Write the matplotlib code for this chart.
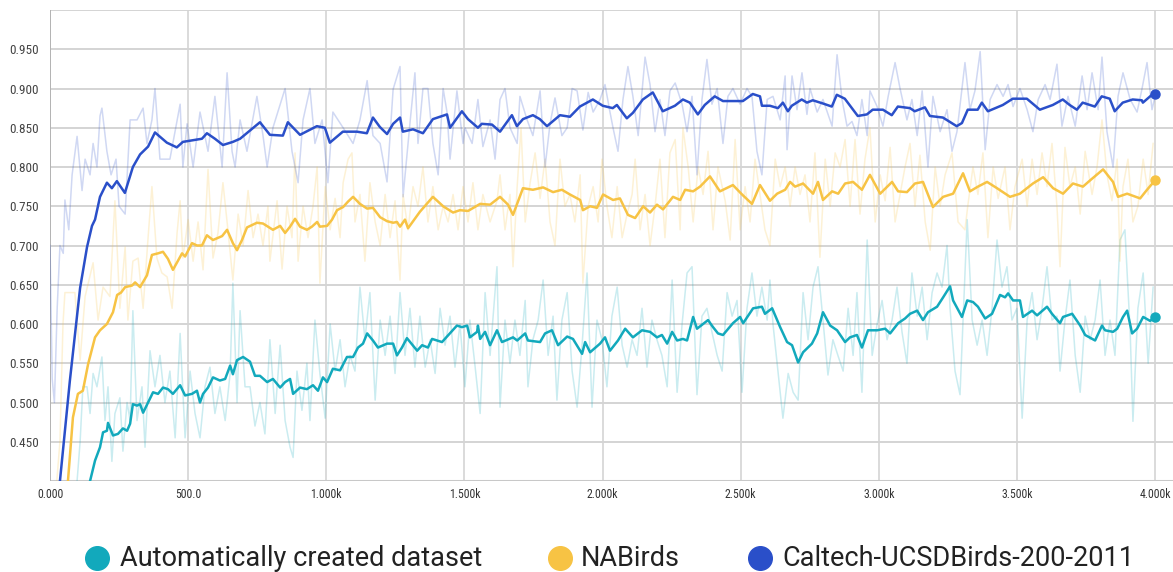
import matplotlib
matplotlib.use("Agg")
import matplotlib.pyplot as plt
from matplotlib import font_manager as fm
from matplotlib.lines import Line2D
import numpy as np

# ---------------- data ----------------
series_names = ["Automatically created dataset", "NABirds", "Caltech-UCSDBirds-200-2011"]
y_ticks = [0.450, 0.500, 0.550, 0.600, 0.650, 0.700, 0.750, 0.800, 0.850, 0.900, 0.950]
y_tick_labels = ["0.450", "0.500", "0.550", "0.600", "0.650", "0.700", "0.750", "0.800", "0.850", "0.900", "0.950"]
x_ticks = [0, 500, 1000, 1500, 2000, 2500, 3000, 3500, 4000]
x_tick_labels = ["0.000", "500.0", "1.000k", "1.500k", "2.000k", "2.500k", "3.000k", "3.500k", "4.000k"]

# Caltech smoothed
blue_s_steps = [0,36,72,109,134,152,163,181,206,224,242,271,300,326,355,380,423,459,481,550,568,597,626,662,688,760,796,843,861,905,966,995,1013,1060,1111,1147,1169,1194,1220,1242,1267,1277,1314,1350,1386,1437,1448,1491,1513,1549,1563,1600,1629,1672,1690,1712,1748,1773,1799,1846,1882,1918,1965,2001,2037,2052,2088,2110,2146,2182,2218,2262,2291,2316,2345,2370,2406,2436,2486,2508,2544,2570,2577,2606,2635,2653,2671,2685,2721,2740,2761,2797,2830,2848,2877,2924,2957,2978,3015,3047,3069,3113,3130,3167,3185,3232,3282,3301,3322,3358,3373,3395,3449,3485,3536,3583,3630,3666,3691,3717,3738,3782,3807,3836,3854,3883,3919,3952,3956,3992,4000]
blue_s_vals = [0.30,0.40,0.528,0.646,0.698,0.725,0.733,0.762,0.780,0.773,0.782,0.767,0.800,0.816,0.826,0.844,0.831,0.825,0.832,0.836,0.843,0.836,0.828,0.832,0.836,0.857,0.841,0.840,0.857,0.841,0.852,0.850,0.831,0.845,0.845,0.843,0.863,0.851,0.842,0.855,0.863,0.845,0.848,0.843,0.861,0.867,0.850,0.871,0.861,0.850,0.855,0.854,0.845,0.866,0.852,0.861,0.866,0.861,0.852,0.866,0.864,0.877,0.886,0.878,0.875,0.879,0.862,0.869,0.886,0.895,0.871,0.878,0.886,0.882,0.867,0.879,0.890,0.884,0.884,0.884,0.893,0.890,0.878,0.878,0.875,0.882,0.871,0.878,0.886,0.882,0.885,0.881,0.877,0.892,0.887,0.865,0.867,0.873,0.873,0.866,0.877,0.875,0.871,0.876,0.865,0.863,0.852,0.856,0.873,0.873,0.882,0.871,0.879,0.887,0.887,0.873,0.879,0.886,0.879,0.873,0.882,0.877,0.890,0.887,0.871,0.882,0.886,0.885,0.882,0.893,0.893]

# NABirds smoothed
yel_s_steps = [0,65,83,101,119,138,163,181,206,228,243,257,272,297,308,326,351,369,391,409,427,445,478,489,514,532,550,568,590,623,641,662,677,695,713,749,771,789,807,833,851,869,887,905,930,948,967,977,1003,1021,1039,1061,1079,1097,1122,1148,1169,1195,1220,1242,1256,1267,1285,1296,1339,1386,1423,1459,1484,1513,1557,1593,1629,1658,1676,1712,1748,1785,1821,1853,1882,1919,1929,1955,1980,2002,2038,2063,2092,2118,2147,2172,2197,2219,2255,2281,2299,2328,2353,2389,2425,2472,2505,2541,2570,2606,2632,2661,2679,2697,2726,2762,2780,2798,2831,2853,2878,2907,2939,2968,3005,3048,3070,3102,3131,3160,3196,3233,3269,3305,3330,3359,3392,3428,3475,3511,3558,3595,3631,3667,3703,3739,3765,3812,3848,3866,3899,3946,3971,4000]
yel_s_vals = [0.30,0.40,0.481,0.511,0.515,0.549,0.583,0.592,0.600,0.615,0.637,0.640,0.647,0.649,0.653,0.647,0.662,0.688,0.690,0.692,0.683,0.669,0.690,0.686,0.703,0.700,0.700,0.713,0.707,0.712,0.720,0.703,0.694,0.707,0.723,0.729,0.728,0.724,0.720,0.725,0.716,0.724,0.734,0.724,0.720,0.724,0.730,0.724,0.725,0.733,0.745,0.749,0.756,0.762,0.753,0.747,0.748,0.736,0.731,0.729,0.730,0.724,0.733,0.722,0.743,0.762,0.750,0.742,0.745,0.744,0.753,0.752,0.762,0.752,0.739,0.773,0.771,0.774,0.768,0.771,0.765,0.758,0.745,0.750,0.748,0.765,0.758,0.760,0.739,0.735,0.750,0.742,0.752,0.746,0.762,0.758,0.771,0.769,0.775,0.788,0.769,0.777,0.765,0.753,0.777,0.757,0.766,0.771,0.781,0.775,0.779,0.766,0.781,0.758,0.769,0.766,0.779,0.781,0.771,0.790,0.766,0.781,0.769,0.768,0.779,0.781,0.749,0.762,0.766,0.792,0.769,0.775,0.781,0.773,0.762,0.766,0.779,0.787,0.773,0.766,0.779,0.775,0.783,0.797,0.781,0.762,0.766,0.760,0.771,0.783]

# Automatically created dataset smoothed
cyan_s_steps = [0,145,163,181,192,206,210,228,246,264,279,290,300,315,326,337,373,391,409,427,445,471,489,514,532,543,554,572,590,615,634,652,662,677,699,724,742,760,786,807,833,851,869,880,905,930,952,970,988,1003,1024,1050,1075,1097,1115,1133,1148,1169,1187,1220,1242,1256,1274,1292,1329,1347,1368,1383,1419,1437,1473,1491,1510,1520,1546,1549,1557,1575,1593,1618,1636,1676,1691,1720,1730,1774,1792,1817,1839,1872,1893,1926,1937,1955,1991,2009,2027,2056,2082,2110,2143,2172,2197,2215,2234,2252,2270,2291,2306,2328,2342,2382,2400,2418,2436,2472,2498,2509,2545,2577,2588,2614,2643,2668,2686,2708,2726,2758,2777,2798,2824,2849,2878,2896,2921,2939,2961,2994,3023,3041,3070,3095,3113,3139,3160,3178,3211,3233,3258,3269,3301,3320,3341,3359,3385,3410,3439,3457,3468,3486,3511,3522,3555,3573,3609,3627,3656,3667,3700,3729,3747,3783,3808,3819,3848,3863,3884,3899,3917,3935,3957,3982,4000]
cyan_s_vals = [0.30,0.40,0.426,0.443,0.462,0.464,0.474,0.458,0.460,0.467,0.464,0.473,0.498,0.496,0.498,0.487,0.513,0.511,0.519,0.517,0.511,0.522,0.509,0.511,0.515,0.500,0.511,0.519,0.532,0.528,0.530,0.547,0.536,0.554,0.558,0.552,0.534,0.534,0.526,0.530,0.519,0.526,0.530,0.511,0.519,0.517,0.522,0.515,0.532,0.526,0.543,0.541,0.558,0.558,0.570,0.575,0.588,0.579,0.570,0.575,0.575,0.560,0.570,0.582,0.566,0.573,0.570,0.581,0.577,0.584,0.598,0.596,0.598,0.583,0.590,0.598,0.581,0.590,0.573,0.592,0.577,0.583,0.579,0.588,0.579,0.577,0.588,0.592,0.573,0.584,0.581,0.562,0.577,0.564,0.575,0.583,0.566,0.579,0.594,0.583,0.592,0.590,0.583,0.586,0.575,0.590,0.579,0.581,0.579,0.609,0.594,0.605,0.596,0.588,0.586,0.601,0.609,0.601,0.620,0.622,0.613,0.620,0.596,0.577,0.573,0.551,0.564,0.575,0.588,0.615,0.598,0.592,0.577,0.583,0.586,0.570,0.592,0.592,0.594,0.588,0.601,0.607,0.613,0.617,0.605,0.615,0.622,0.634,0.648,0.630,0.609,0.630,0.628,0.622,0.607,0.613,0.637,0.634,0.639,0.630,0.630,0.609,0.617,0.611,0.622,0.613,0.601,0.609,0.613,0.598,0.586,0.579,0.598,0.592,0.590,0.594,0.609,0.617,0.588,0.594,0.609,0.604,0.609]

# raw (unsmoothed) values
blue_r_steps = [0,8,16,26,36,48,54,68,80,98,116,127,145,156,170,181,188,206,221,239,250,272,290,315,337,351,369,380,398,434,471,481,496,518,543,572,597,623,641,659,670,688,713,749,771,786,807,851,876,898,916,941,959,985,1006,1024,1061,1097,1122,1148,1169,1195,1220,1242,1267,1278,1303,1321,1332,1350,1368,1386,1405,1423,1437,1448,1473,1495,1502,1528,1549,1567,1593,1611,1629,1647,1665,1691,1701,1727,1748,1774,1792,1810,1828,1853,1872,1890,1908,1929,1948,1966,1991,2009,2027,2038,2056,2074,2092,2110,2129,2154,2172,2190,2208,2226,2244,2263,2288,2306,2324,2342,2360,2378,2396,2415,2436,2454,2472,2498,2523,2541,2559,2577,2596,2617,2643,2661,2668,2686,2704,2722,2740,2751,2777,2798,2831,2849,2867,2885,2903,2921,2939,2958,2968,2994,3015,3034,3059,3077,3102,3120,3139,3157,3178,3196,3222,3247,3265,3283,3312,3330,3348,3367,3385,3403,3428,3450,3468,3486,3511,3537,3558,3577,3602,3620,3645,3663,3685,3711,3736,3754,3772,3794,3808,3826,3848,3866,3884,3910,3935,3953,3971,3989,4000]
blue_r_vals = [0.70,0.53,0.50,0.62,0.70,0.69,0.758,0.72,0.79,0.839,0.77,0.81,0.79,0.83,0.80,0.865,0.875,0.82,0.79,0.81,0.75,0.74,0.86,0.86,0.875,0.83,0.86,0.90,0.81,0.81,0.88,0.80,0.855,0.80,0.87,0.82,0.89,0.80,0.92,0.82,0.80,0.86,0.82,0.89,0.84,0.80,0.85,0.90,0.82,0.78,0.86,0.90,0.83,0.86,0.78,0.87,0.85,0.83,0.86,0.91,0.84,0.83,0.781,0.899,0.928,0.762,0.856,0.92,0.83,0.90,0.90,0.83,0.79,0.90,0.87,0.81,0.897,0.83,0.85,0.83,0.886,0.826,0.86,0.81,0.886,0.90,0.85,0.83,0.89,0.86,0.84,0.897,0.80,0.855,0.888,0.84,0.85,0.90,0.897,0.847,0.895,0.87,0.886,0.905,0.87,0.85,0.82,0.886,0.928,0.89,0.84,0.94,0.905,0.845,0.886,0.84,0.897,0.907,0.88,0.845,0.89,0.79,0.886,0.937,0.88,0.90,0.83,0.89,0.90,0.88,0.90,0.89,0.82,0.79,0.886,0.89,0.86,0.916,0.822,0.916,0.873,0.92,0.867,0.90,0.87,0.886,0.852,0.943,0.886,0.852,0.858,0.84,0.886,0.84,0.897,0.877,0.852,0.89,0.933,0.90,0.86,0.886,0.84,0.897,0.80,0.89,0.845,0.873,0.82,0.845,0.933,0.873,0.897,0.947,0.822,0.886,0.905,0.89,0.905,0.877,0.90,0.873,0.845,0.886,0.905,0.886,0.931,0.852,0.89,0.852,0.916,0.873,0.92,0.873,0.94,0.845,0.80,0.89,0.92,0.886,0.87,0.90,0.933,0.873,0.89]

yel_r_steps = [0,20,36,47,54,90,109,127,156,174,192,217,235,253,272,282,300,319,337,355,369,387,405,424,442,460,471,481,500,518,536,554,572,590,608,626,644,662,681,699,717,735,753,771,789,796,822,840,858,876,887,898,916,934,952,967,977,996,1014,1032,1050,1061,1079,1093,1104,1122,1140,1158,1177,1195,1213,1231,1249,1267,1278,1296,1314,1332,1350,1368,1386,1405,1423,1441,1459,1477,1495,1513,1531,1549,1567,1593,1618,1629,1647,1665,1676,1691,1705,1720,1738,1756,1774,1792,1810,1828,1846,1864,1882,1900,1919,1929,1948,1966,1984,1998,2016,2034,2053,2071,2089,2107,2118,2136,2154,2172,2190,2208,2226,2244,2263,2281,2291,2310,2328,2346,2364,2382,2400,2418,2444,2462,2480,2498,2516,2534,2552,2570,2588,2606,2625,2643,2661,2679,2697,2715,2733,2751,2769,2787,2806,2824,2842,2860,2878,2896,2914,2932,2950,2968,2987,3005,3023,3041,3059,3077,3095,3113,3131,3149,3168,3186,3204,3222,3240,3265,3287,3312,3322,3341,3359,3377,3395,3414,3432,3457,3475,3493,3519,3537,3555,3573,3591,3609,3627,3645,3656,3674,3692,3711,3729,3747,3772,3790,3808,3826,3844,3863,3873,3884,3902,3920,3938,3957,3975,3993]
yel_r_vals = [0.30,0.38,0.45,0.60,0.64,0.64,0.554,0.635,0.678,0.605,0.647,0.635,0.757,0.62,0.698,0.605,0.68,0.684,0.62,0.71,0.775,0.684,0.665,0.66,0.62,0.716,0.757,0.684,0.733,0.68,0.73,0.669,0.797,0.684,0.716,0.78,0.72,0.656,0.74,0.70,0.77,0.71,0.74,0.70,0.75,0.68,0.757,0.67,0.75,0.71,0.818,0.68,0.75,0.71,0.75,0.80,0.652,0.775,0.72,0.76,0.71,0.78,0.81,0.818,0.73,0.765,0.68,0.78,0.73,0.70,0.765,0.71,0.757,0.656,0.765,0.72,0.775,0.75,0.80,0.73,0.775,0.72,0.75,0.73,0.765,0.72,0.775,0.73,0.78,0.72,0.765,0.73,0.757,0.79,0.72,0.765,0.673,0.775,0.85,0.73,0.78,0.818,0.76,0.81,0.73,0.70,0.81,0.75,0.765,0.73,0.79,0.652,0.75,0.775,0.73,0.81,0.75,0.71,0.775,0.71,0.74,0.765,0.81,0.72,0.765,0.70,0.75,0.81,0.71,0.818,0.835,0.72,0.85,0.80,0.73,0.80,0.765,0.82,0.72,0.80,0.757,0.707,0.835,0.72,0.775,0.73,0.81,0.765,0.72,0.70,0.81,0.775,0.80,0.75,0.80,0.765,0.79,0.73,0.818,0.685,0.81,0.75,0.818,0.80,0.835,0.75,0.835,0.74,0.81,0.85,0.73,0.79,0.757,0.825,0.73,0.765,0.80,0.83,0.75,0.815,0.73,0.694,0.80,0.75,0.79,0.818,0.73,0.72,0.75,0.80,0.765,0.818,0.71,0.80,0.76,0.80,0.72,0.775,0.81,0.75,0.81,0.765,0.818,0.775,0.83,0.75,0.673,0.825,0.775,0.80,0.74,0.82,0.765,0.80,0.86,0.79,0.757,0.81,0.68,0.775,0.81,0.73,0.75,0.81,0.765,0.83]

cyan_r_steps = [0,40,98,109,119,134,145,156,170,188,199,210,224,235,253,264,279,290,300,315,333,344,362,380,398,416,434,453,471,489,507,525,543,561,579,597,615,634,652,662,677,688,706,724,742,760,778,796,815,833,851,869,880,894,912,930,941,959,977,996,1014,1032,1050,1068,1086,1104,1122,1140,1158,1177,1195,1213,1231,1249,1267,1285,1303,1321,1339,1358,1376,1394,1412,1430,1448,1466,1484,1502,1520,1539,1557,1575,1593,1618,1629,1647,1665,1683,1701,1720,1730,1748,1767,1785,1803,1821,1835,1853,1872,1890,1908,1926,1944,1962,1980,1998,2016,2034,2053,2071,2089,2107,2125,2143,2161,2179,2197,2215,2234,2252,2270,2288,2306,2324,2342,2360,2378,2396,2415,2433,2451,2469,2487,2505,2523,2541,2559,2577,2596,2606,2617,2635,2653,2672,2690,2708,2726,2744,2762,2780,2798,2816,2834,2852,2871,2889,2907,2921,2939,2958,2976,2994,3012,3030,3048,3066,3084,3102,3120,3139,3157,3175,3193,3211,3229,3247,3258,3276,3294,3305,3320,3338,3356,3374,3392,3410,3428,3446,3464,3482,3500,3519,3537,3555,3573,3591,3609,3627,3645,3656,3674,3692,3711,3729,3747,3765,3783,3801,3819,3837,3855,3873,3891,3910,3920,3938,3957,3975,3993]
cyan_r_vals = [0.30,0.35,0.40,0.45,0.52,0.52,0.486,0.537,0.52,0.558,0.477,0.52,0.425,0.486,0.506,0.438,0.50,0.477,0.617,0.477,0.52,0.443,0.566,0.52,0.56,0.50,0.54,0.455,0.588,0.455,0.54,0.486,0.455,0.52,0.545,0.486,0.52,0.477,0.537,0.652,0.50,0.617,0.52,0.52,0.47,0.50,0.46,0.58,0.486,0.573,0.477,0.443,0.43,0.54,0.49,0.55,0.477,0.605,0.537,0.48,0.60,0.54,0.58,0.52,0.56,0.54,0.647,0.58,0.64,0.503,0.605,0.56,0.61,0.537,0.64,0.56,0.62,0.545,0.61,0.545,0.58,0.537,0.62,0.573,0.61,0.545,0.60,0.52,0.605,0.545,0.486,0.64,0.56,0.673,0.494,0.605,0.55,0.605,0.56,0.63,0.52,0.58,0.605,0.656,0.56,0.61,0.503,0.605,0.64,0.54,0.494,0.573,0.665,0.494,0.605,0.58,0.52,0.61,0.647,0.573,0.545,0.58,0.56,0.62,0.545,0.605,0.58,0.56,0.52,0.656,0.513,0.60,0.665,0.673,0.51,0.61,0.62,0.59,0.56,0.54,0.64,0.61,0.63,0.513,0.62,0.665,0.61,0.647,0.605,0.656,0.60,0.54,0.48,0.537,0.513,0.503,0.64,0.58,0.647,0.673,0.605,0.535,0.58,0.56,0.54,0.62,0.56,0.64,0.513,0.707,0.56,0.60,0.63,0.58,0.605,0.647,0.59,0.55,0.665,0.61,0.647,0.58,0.64,0.665,0.647,0.70,0.62,0.54,0.51,0.605,0.733,0.605,0.573,0.605,0.56,0.62,0.707,0.647,0.673,0.605,0.62,0.48,0.605,0.64,0.58,0.62,0.673,0.605,0.61,0.54,0.605,0.656,0.56,0.513,0.61,0.58,0.605,0.656,0.56,0.605,0.56,0.707,0.72,0.59,0.476,0.62,0.665,0.55,0.647]

# ---------------- style ----------------
def pick_font(cands):
    for c in cands:
        try:
            fm.findfont(fm.FontProperties(family=c), fallback_to_default=False)
            return c
        except Exception:
            continue
    return "DejaVu Sans"

narrow = pick_font(["Roboto Condensed", "Liberation Sans Narrow", "DejaVu Sans"])
legend_font = pick_font(["Roboto", "DejaVu Sans"])
plt.rcParams["font.family"] = [narrow, "DejaVu Sans"]

cyan = "#12A9BC"
yellow = "#F7C344"
blue = "#2A4FC9"
grid_c = "#d4d4d4"

fig = plt.figure(figsize=(11.73, 5.72), dpi=100)
ax = fig.add_axes([50/1173, 91/572, 1 - 50/1173, 471/572])
ax.set_xlim(0, 4065)
ax.set_ylim(0.4, 1.0)

for x in x_ticks:
    ax.axvline(x, color=grid_c, lw=1.2, zorder=0)
for y in y_ticks + [1.0]:
    ax.axhline(y, color=grid_c, lw=1.4, zorder=0)
ax.axhline(0.4, color="#c8c8c8", lw=2.2, zorder=1)
ax.axvline(0, color="#b0b0b0", lw=1.3, zorder=1)

for s in ax.spines.values():
    s.set_visible(False)

raw = [(cyan_r_steps, cyan_r_vals, cyan), (yel_r_steps, yel_r_vals, yellow), (blue_r_steps, blue_r_vals, blue)]
for st, v, c in raw:
    ax.plot(st, v, color=c, lw=1.1, alpha=0.22, zorder=2, solid_joinstyle="round")

smooth = [(cyan_s_steps, cyan_s_vals, cyan), (yel_s_steps, yel_s_vals, yellow), (blue_s_steps, blue_s_vals, blue)]
for st, v, c in smooth:
    ax.plot(st, v, color=c, lw=1.8, zorder=3, solid_joinstyle="round")
    ax.plot([st[-1]], [v[-1]], "o", color=c, ms=6.5, zorder=4)

ax.set_xticks(x_ticks)
ax.set_xticklabels(x_tick_labels, fontsize=8.5, color="#333333")
ax.set_yticks(y_ticks)
ax.set_yticklabels(y_tick_labels, fontsize=9.5, color="#444444")
ax.tick_params(length=0, pad=5)
ax.tick_params(axis="y", pad=8)

# legend
leg_y = 1 - 558/572
leg_items = [(97, 120, cyan), (560, 581, yellow), (760, 782, blue)]
for (mx, tx, c), name in zip(leg_items, series_names):
    fig.add_artist(Line2D([mx/1173], [leg_y], marker="o", color=c, ms=17, transform=fig.transFigure, linestyle="none"))
    fig.text(tx/1173, leg_y, name, fontsize=19.5, family=[legend_font, "DejaVu Sans"],
             color="#222222", va="center", ha="left")

fig.savefig("out.png", dpi=100)
